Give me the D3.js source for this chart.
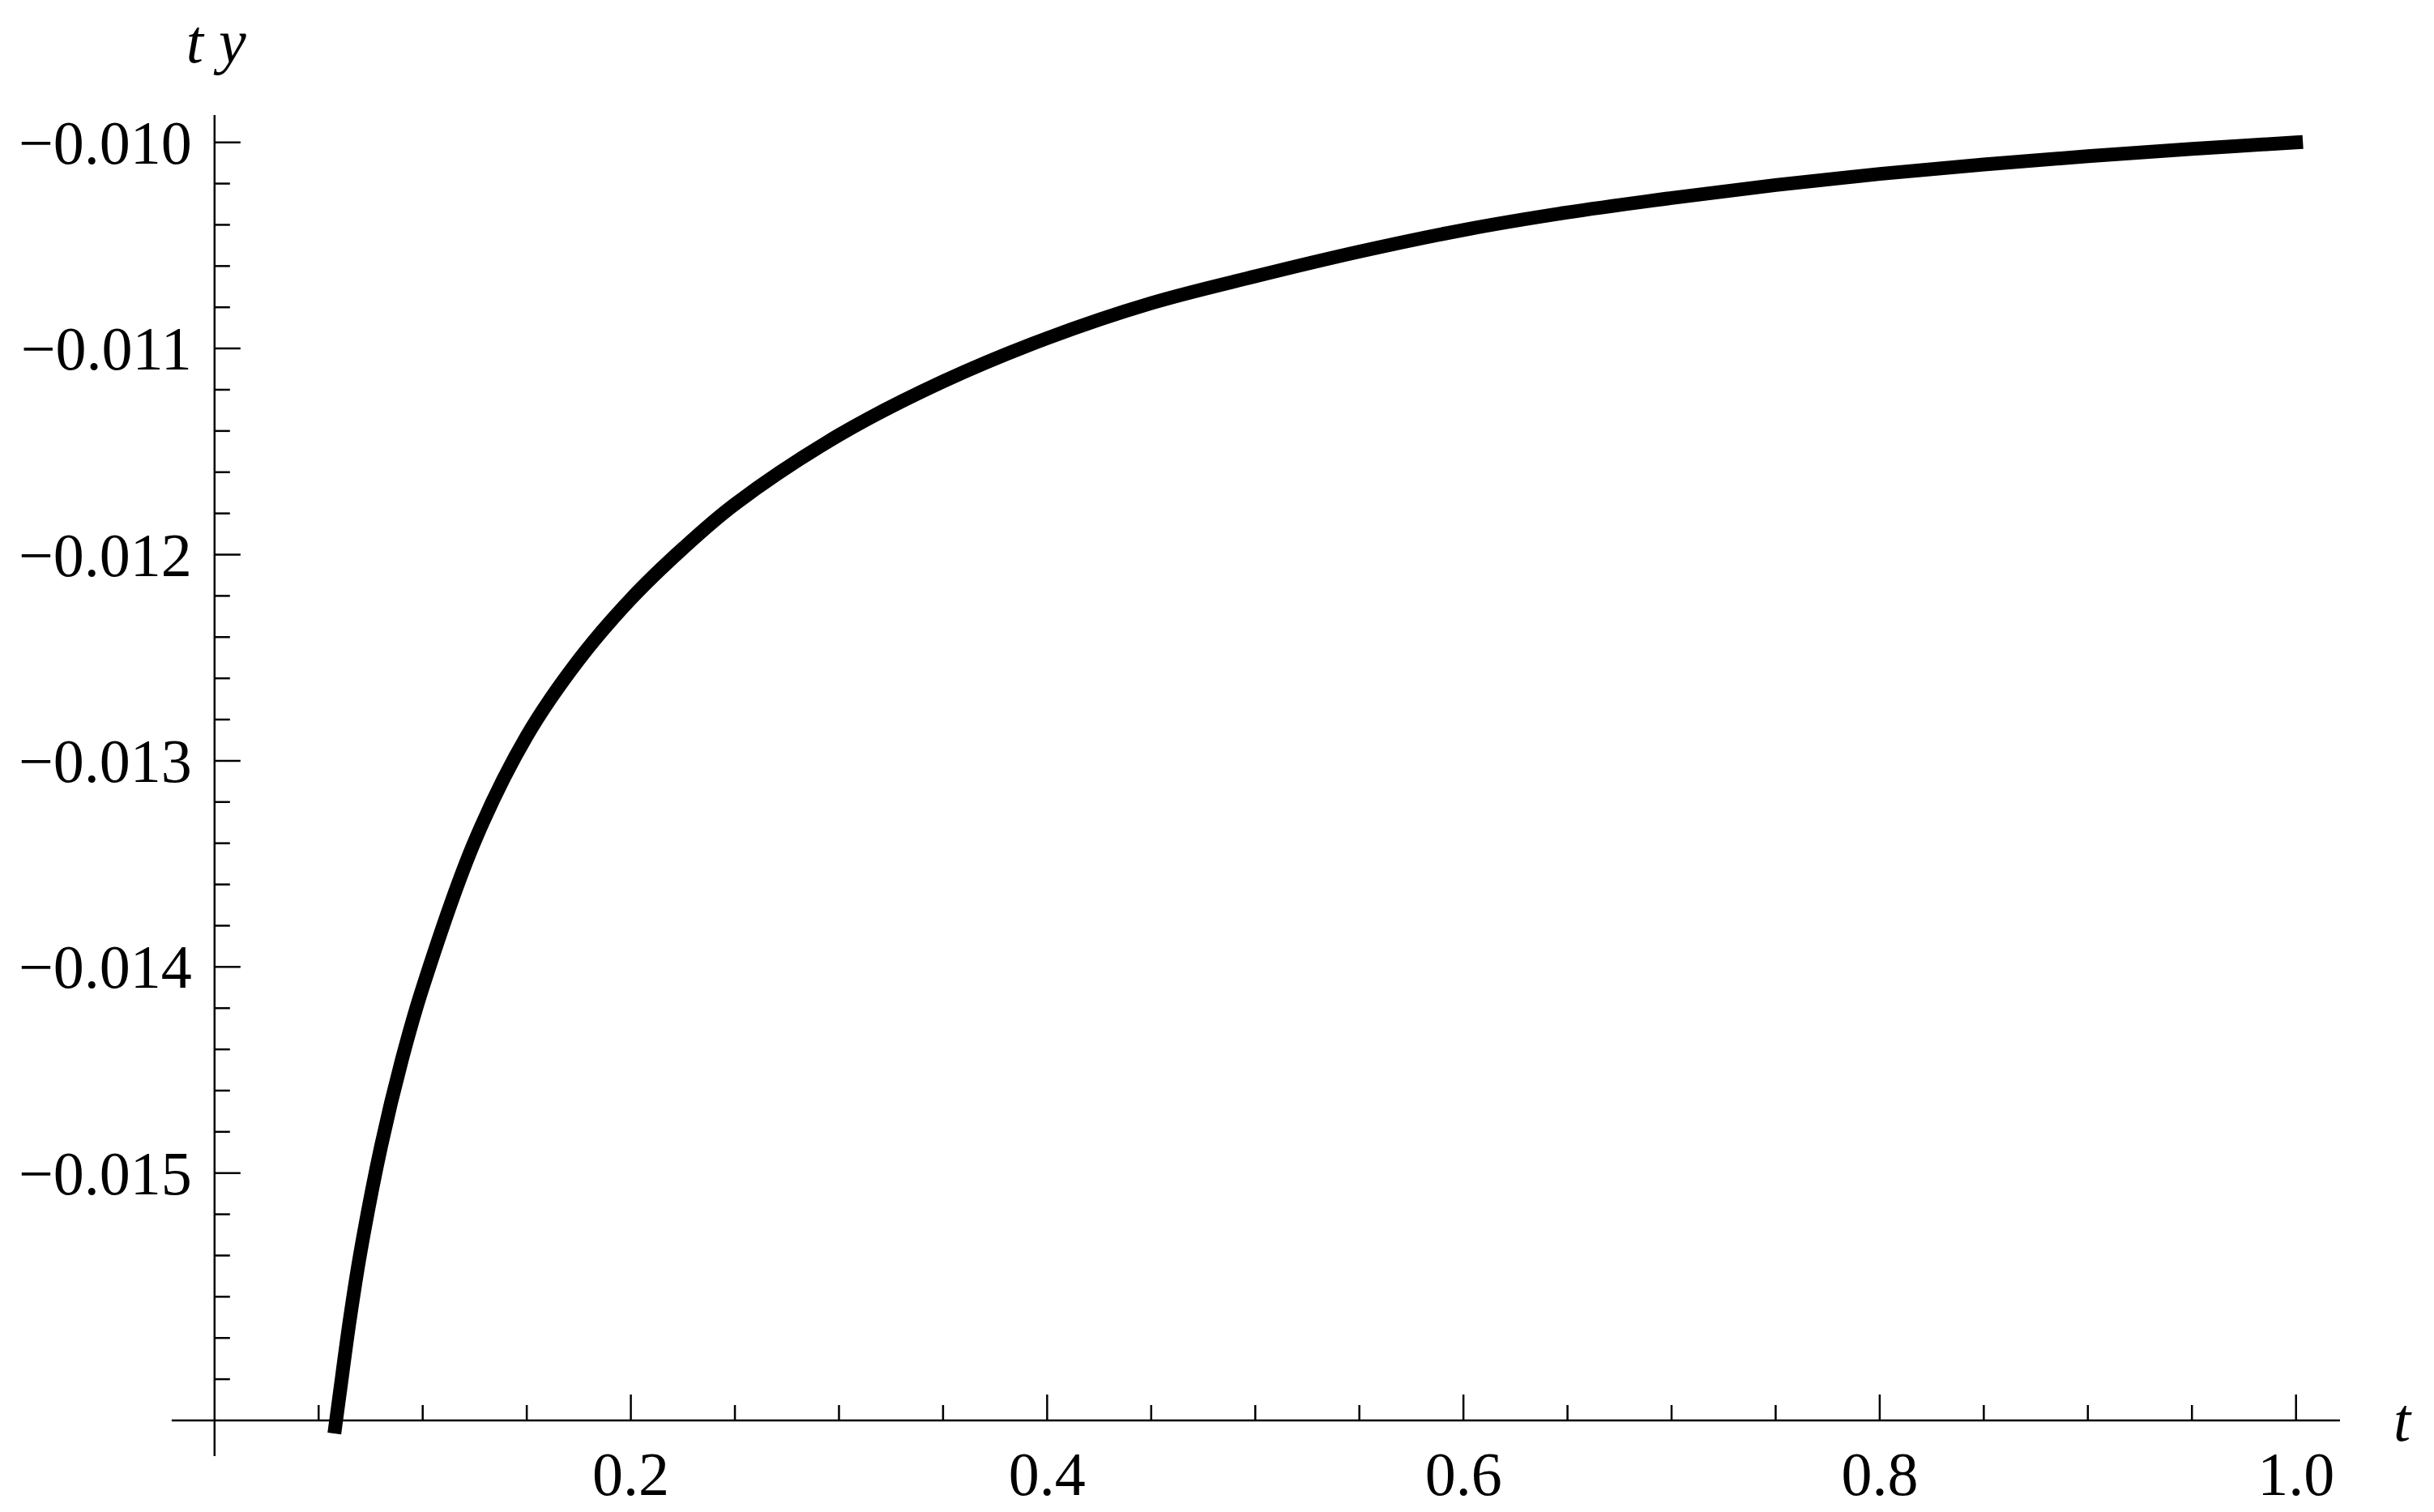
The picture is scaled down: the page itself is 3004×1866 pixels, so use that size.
<!DOCTYPE html>
<html>
<head>
<meta charset="utf-8">
<script src="https://cdn.jsdelivr.net/npm/d3@7"></script>
<style>
  html, body { margin: 0; padding: 0; background: #fff; }
  svg { display: block; }
  text { font-family: "Liberation Serif", "Times New Roman", serif; fill: #000; }
</style>
</head>
<body>
<svg id="chart" width="3004" height="1866"></svg>
<script>
// ---- data ----
const tValues = [0.058, 0.06, 0.065, 0.07, 0.08, 0.09, 0.1, 0.125, 0.15, 0.175, 0.2, 0.225, 0.25,
                 0.3, 0.35, 0.4, 0.45, 0.5, 0.55, 0.6, 0.65, 0.7, 0.75, 0.8, 0.85, 0.9, 0.95, 1.0];
const tyValues = [-0.01623, -0.01608, -0.01571, -0.01539, -0.01487, -0.01445, -0.0141, -0.01339, -0.01288,
                  -0.01251, -0.012215, -0.01197, -0.011755, -0.01142, -0.01116, -0.01095, -0.01078, -0.01065,
                  -0.01053, -0.010425, -0.01034, -0.01027, -0.010207, -0.010153, -0.010107, -0.010067,
                  -0.010032, -0.0100];
const xMajorTicks = [0.2, 0.4, 0.6, 0.8, 1.0];
const xTickLabels = ["0.2", "0.4", "0.6", "0.8", "1.0"];
const yMajorTicks = [-0.010, -0.011, -0.012, -0.013, -0.014, -0.015];
const yTickLabels = ["\u22120.010", "\u22120.011", "\u22120.012", "\u22120.013", "\u22120.014", "\u22120.015"];
const xAxisLabel = "t";
const yAxisLabel = "t y";

// ---- scales ----
const svg = d3.select("#chart");
const x = d3.scaleLinear().domain([0, 1]).range([264.8, 2833.7]);
const y = d3.scaleLinear().domain([-0.010, -0.015]).range([175.7, 1447.7]);
const xAxisAt = -0.0162;           // y-value where the horizontal axis crosses
const xAxisExtent = [-0.0206, 1.0211];
const yAxisExtent = [-0.009868, -0.016373];

const xMinor = d3.range(1, 20).map(i => i * 0.05).filter(v => !xMajorTicks.some(m => Math.abs(m - v) < 1e-9));
const yMinor = d3.range(0, 31).map(i => -0.010 - i * 0.0002)
  .filter(v => !yMajorTicks.some(m => Math.abs(m - v) < 1e-9));

const ax = svg.append("g").attr("stroke", "#000").attr("stroke-width", 2.5);
// x axis line
ax.append("line")
  .attr("x1", x(xAxisExtent[0])).attr("x2", x(xAxisExtent[1]))
  .attr("y1", y(xAxisAt)).attr("y2", y(xAxisAt));
// y axis line
ax.append("line")
  .attr("x1", x(0)).attr("x2", x(0))
  .attr("y1", y(yAxisExtent[0])).attr("y2", y(yAxisExtent[1]));

// x ticks
ax.selectAll(".xmaj").data(xMajorTicks).join("line")
  .attr("x1", d => x(d)).attr("x2", d => x(d))
  .attr("y1", y(xAxisAt)).attr("y2", y(xAxisAt) - 32);
ax.selectAll(".xmin").data(xMinor).join("line")
  .attr("x1", d => x(d)).attr("x2", d => x(d))
  .attr("y1", y(xAxisAt)).attr("y2", y(xAxisAt) - 19);
// y ticks
ax.selectAll(".ymaj").data(yMajorTicks).join("line")
  .attr("x1", x(0)).attr("x2", x(0) + 32)
  .attr("y1", d => y(d)).attr("y2", d => y(d));
ax.selectAll(".ymin").data(yMinor).join("line")
  .attr("x1", x(0)).attr("x2", x(0) + 19)
  .attr("y1", d => y(d)).attr("y2", d => y(d));

// tick labels
svg.selectAll(".xl").data(xMajorTicks).join("text")
  .attr("x", d => x(d)).attr("y", y(xAxisAt) + 92)
  .attr("text-anchor", "middle").attr("font-size", 76)
  .text((d, i) => xTickLabels[i]);
svg.selectAll(".yl").data(yMajorTicks).join("text")
  .attr("x", x(0) - 28).attr("y", d => y(d) + 26)
  .attr("text-anchor", "end").attr("font-size", 76)
  .text((d, i) => yTickLabels[i]);

// axis labels
svg.append("text").attr("x", x(xAxisExtent[1]) + 66).attr("y", y(xAxisAt) + 25)
  .attr("font-size", 76).attr("font-style", "italic").text(xAxisLabel);
svg.append("text").attr("x", x(0) + 2).attr("y", 77)
  .attr("text-anchor", "middle").attr("font-size", 76).attr("font-style", "italic").text(yAxisLabel);

// curve
const line = d3.line().x(d => x(d[0])).y(d => y(d[1])).curve(d3.curveCatmullRom.alpha(0.5));
svg.append("path")
  .datum(tValues.map((t, i) => [t, tyValues[i]]))
  .attr("d", line)
  .attr("fill", "none").attr("stroke", "#000").attr("stroke-width", 17)
  .attr("stroke-linecap", "square").attr("stroke-linejoin", "round");
</script>
</body>
</html>
